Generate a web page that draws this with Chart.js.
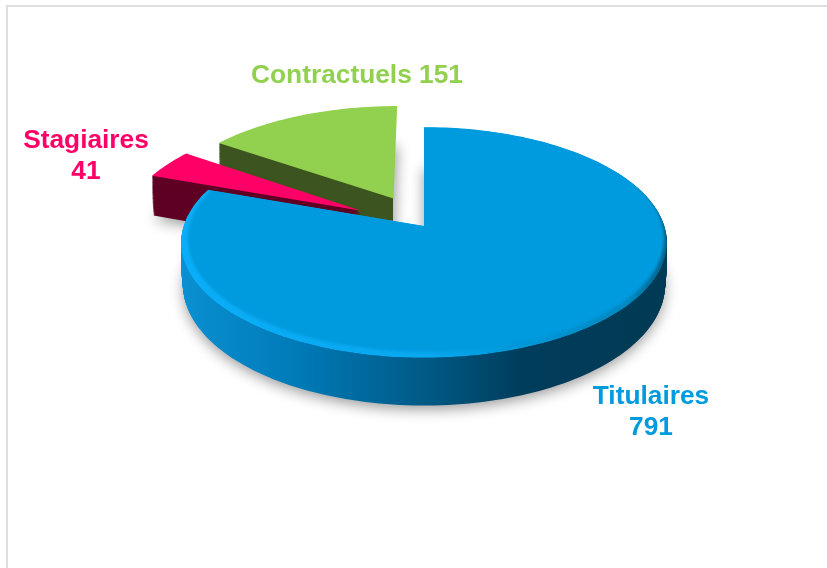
<!DOCTYPE html>
<html>
<head>
<meta charset="utf-8">
<title>Effectifs</title>
<script src="https://cdn.jsdelivr.net/npm/chart.js@4/dist/chart.umd.min.js"></script>
<style>
  html, body { margin: 0; padding: 0; background: #fff; overflow: hidden; }
  #frame { position: absolute; left: 6px; top: 5px; right: 0; bottom: 0; border-top: 2px solid #dedede; border-left: 2px solid #dedede; }
  #pie { position: absolute; left: 0; top: 0; }
</style>
</head>
<body>
<div id="frame"></div>
<canvas id="pie" width="827" height="568"></canvas>
<script>
const categories = ["Titulaires", "Stagiaires", "Contractuels"];
const values = [791, 41, 151];
const topColors = ["#009ade", "#ff0066", "#92d050"];
const wallColors = [null, "#5f0024", "#3d5520"];
const sliceOffsets = [0, 74, 70];

// where the labels go: [x, baseline y of the first line, one line or two]
const labelSpots = [
  [651, 404, true],
  [86, 148, true],
  [357, 83, false]
];

// tilted disc, a simple perspective on the unit circle
const CX = 424, CY = 226, A = 240.5, B = 113, P = 0.143, DEPTH = 42;

function project(u, v, dz) {
  const w = 1 - P * v;
  return [CX + A * u / w, CY + B * v / w + dz / w];
}

function sliceCentre(el) {
  const off = (el.options.offset || 0) / el.outerRadius;
  const mid = (el.startAngle + el.endAngle) / 2;
  return [Math.cos(mid) * off, Math.sin(mid) * off];
}

function slicePath(ctx, el, scale, dz) {
  const c = sliceCentre(el);
  const steps = Math.max(8, Math.round((el.endAngle - el.startAngle) * 40));
  ctx.beginPath();
  let p = project(c[0], c[1], dz);
  ctx.moveTo(p[0], p[1]);
  for (let i = 0; i <= steps; i++) {
    const a = el.startAngle + (el.endAngle - el.startAngle) * i / steps;
    p = project(c[0] + Math.cos(a) * scale, c[1] + Math.sin(a) * scale, dz);
    ctx.lineTo(p[0], p[1]);
  }
  ctx.closePath();
}

// whole disc, for the flat part inside the bevel
function discPath(ctx, scale, dx, dy) {
  ctx.beginPath();
  for (let i = 0; i <= 300; i++) {
    const a = Math.PI * 2 * i / 300;
    const p = project(Math.cos(a) * scale, Math.sin(a) * scale, 0);
    ctx.lineTo(p[0] + dx, p[1] + dy);
  }
  ctx.closePath();
}

// keeps the back cut face of a slice out of sight
function clipBackEdge(ctx, el) {
  const c = sliceCentre(el);
  const apex = project(c[0], c[1], 0);
  const rim = project(c[0] + Math.cos(el.endAngle), c[1] + Math.sin(el.endAngle), 0);
  ctx.beginPath();
  ctx.moveTo(0, 0);
  ctx.lineTo(rim[0] - 1, 0);
  ctx.lineTo(rim[0] - 1, rim[1]);
  ctx.lineTo(apex[0] - 1, apex[1]);
  ctx.lineTo(apex[0] - 1, 568);
  ctx.lineTo(0, 568);
  ctx.closePath();
  ctx.clip();
}

function blueWall(ctx) {
  const g = ctx.createLinearGradient(181, 0, 667, 0);
  g.addColorStop(0, "#0a90d2");
  g.addColorStop(0.25, "#0079b6");
  g.addColorStop(0.5, "#005a86");
  g.addColorStop(0.7, "#003d5c");
  g.addColorStop(1, "#003a54");
  return g;
}

function blueRim(ctx) {
  const g = ctx.createLinearGradient(181, 0, 667, 0);
  g.addColorStop(0, "#0aaef8");
  g.addColorStop(0.5, "#0aa8f0");
  g.addColorStop(0.7, "#0098d8");
  g.addColorStop(0.92, "#0088c0");
  g.addColorStop(1, "#00608a");
  return g;
}

const pie3d = {
  id: "pie3d",
  beforeDatasetDraw(chart, args) {
    const ctx = chart.ctx;
    const arcs = args.meta.data;
    // soft shadows first, the shape itself is drawn off canvas
    ctx.save();
    ctx.translate(-2000, 0);
    arcs.forEach(function (el) {
      ctx.shadowColor = "rgba(0,0,0,0.4)";
      ctx.shadowBlur = 14;
      ctx.shadowOffsetX = 2000;
      ctx.shadowOffsetY = 4;
      ctx.fillStyle = "#000";
      slicePath(ctx, el, 0.99, DEPTH);
      ctx.fill();
    });
    ctx.restore();
    // back slices first, blue one last
    [2, 1, 0].forEach(function (i) {
      const el = arcs[i];
      ctx.save();
      if (i === 2) clipBackEdge(ctx, el);
      for (let d = DEPTH; d > 0; d--) {
        const t = d / DEPTH;
        ctx.fillStyle = wallColors[i] || blueWall(ctx);
        slicePath(ctx, el, 1 - 0.008 * t * t * t, d);
        ctx.fill();
      }
      ctx.restore();
      if (i === 0) {
        ctx.save();
        slicePath(ctx, el, 1, 0);
        ctx.clip();
        ctx.fillStyle = blueRim(ctx);
        ctx.fill();
        ctx.filter = "blur(1.5px)";
        ctx.fillStyle = topColors[0];
        discPath(ctx, 0.98, 2, -3);
        ctx.fill();
        ctx.restore();
      } else {
        ctx.fillStyle = topColors[i];
        slicePath(ctx, el, 1, 0);
        ctx.fill();
      }
    });
    return false;
  },
  afterDraw(chart) {
    const ctx = chart.ctx;
    ctx.save();
    ctx.font = "bold 26.3px 'Liberation Sans', Arial, sans-serif";
    ctx.textAlign = "center";
    categories.forEach(function (name, i) {
      const spot = labelSpots[i];
      ctx.fillStyle = topColors[i];
      if (spot[2]) {
        ctx.fillText(name, spot[0], spot[1]);
        ctx.fillText(String(values[i]), spot[0], spot[1] + 31);
      } else {
        ctx.fillText(name + " " + values[i], spot[0], spot[1]);
      }
    });
    ctx.restore();
  }
};

new Chart(document.getElementById("pie").getContext("2d"), {
  type: "pie",
  data: {
    labels: categories,
    datasets: [{
      data: values,
      backgroundColor: topColors,
      borderWidth: 0,
      offset: sliceOffsets
    }]
  },
  options: {
    responsive: false,
    animation: false,
    plugins: { legend: { display: false }, tooltip: { enabled: false } }
  },
  plugins: [pie3d]
});
</script>
</body>
</html>
